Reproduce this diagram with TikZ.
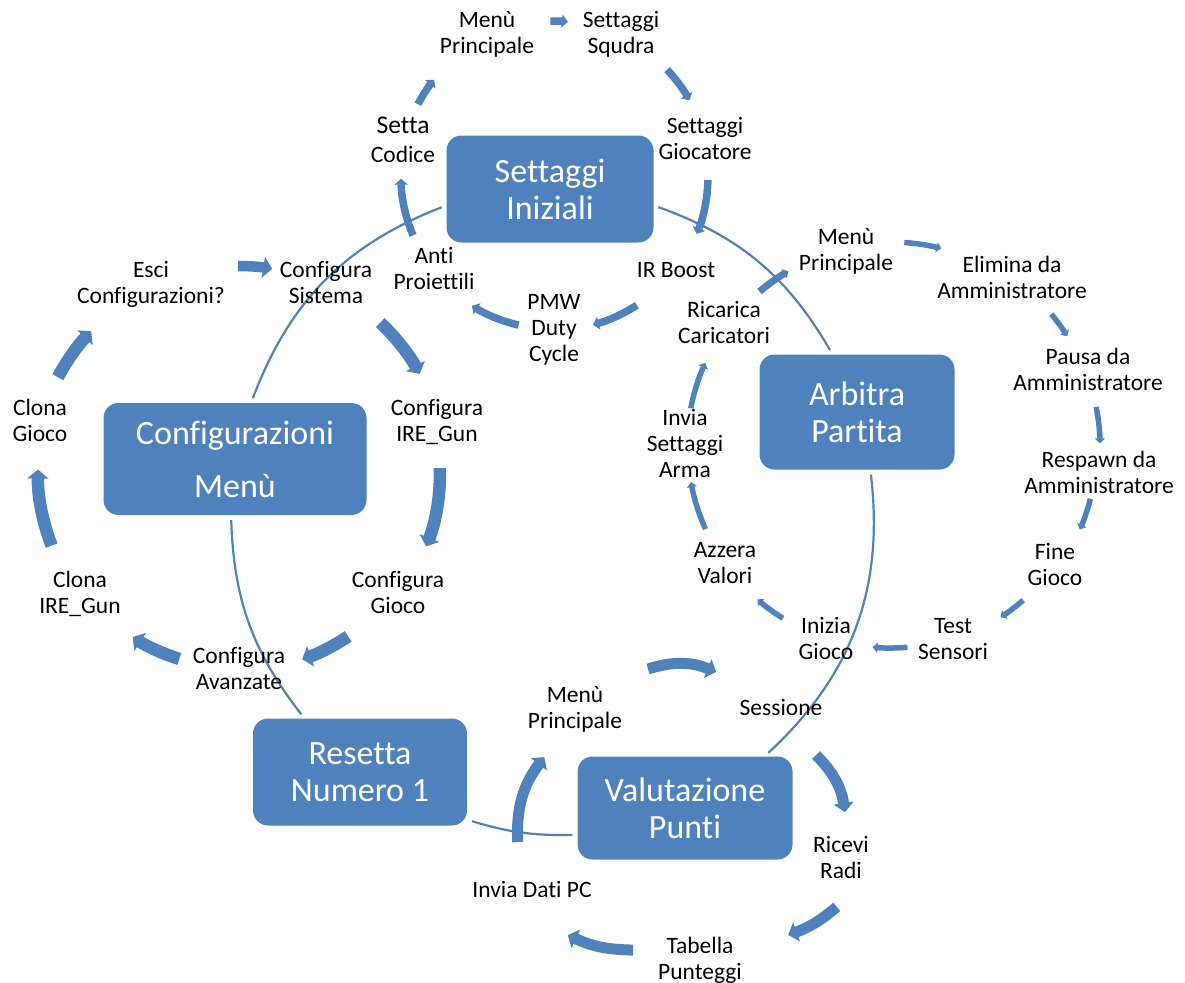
\documentclass[tikz,border=0pt]{standalone}
\usepackage{fontspec}
\setmainfont{Carlito}[Ligatures=NoCommon]
\usetikzlibrary{arrows.meta}
\definecolor{boxcol}{RGB}{79,129,189}
\definecolor{labelcol}{RGB}{0,0,0}

\begin{document}
\begin{tikzpicture}[
  x=1pt, y=-1pt,
  hubbox/.style={
    fill=boxcol, draw=none, rounded corners=15pt,
    align=center, text=white, inner sep=0pt,
    font=\fontsize{34}{37}\selectfont
  },
  lbl/.style={anchor=base, align=center, inner sep=0pt, text=labelcol,
    font=\fontsize{23.5}{26}\selectfont},
  ring/.style={draw=boxcol, line width=2.2pt, shorten <=5pt, shorten >=5pt},
  sarr/.style={draw=boxcol, line width=7.5pt, -{Triangle[width=13pt,length=6pt]}},
  aarr/.style={draw=boxcol, line width=5.5pt, -{Triangle[width=10pt,length=5pt]}},
  carr/.style={draw=boxcol, line width=12.5pt, -{Triangle[width=21pt,length=9pt]}},
  varr/.style={draw=boxcol, line width=11pt, -{Triangle[width=20pt,length=9pt]}}
]
\useasboundingbox (0,0) rectangle (1185,982);

%% ===================== Main boxes ===============================
\node[hubbox, minimum width=207pt, minimum height=107pt] (set) at (550,189) {Settaggi\\Iniziali};
\node[hubbox, minimum width=195pt, minimum height=115pt] (arb) at (857,412) {Arbitra\\Partita};
\node[hubbox, minimum width=263pt, minimum height=112pt,
      font=\fontsize{34}{53}\selectfont]                 (cfg) at (235,459) {Configurazioni\\Menù};
\node[hubbox, minimum width=214pt, minimum height=107pt] (res) at (360,772) {Resetta\\Numero 1};
\node[hubbox, minimum width=215pt, minimum height=103pt] (val) at (685,808) {Valutazione\\Punti};

%% ===================== Outer ring ===============================
\draw[ring] (set.-9.5)  to[bend left=20] (arb.113.6);
\draw[ring] (arb.-77.7) to[bend left=27] (val.33.2);
\draw[ring] (val.194.5) to[bend left=9]  (res.-24.5);
\draw[ring] (res.136.9) to[bend left=18] (cfg.266.3);
\draw[ring] (cfg.74.7)  to[bend left=24] (set.189.5);

%% ===================== Settaggi Iniziali cycle ==================
\node[lbl] (smenu) at (487,54)  {Menù\\Principale};
\node[lbl] (ssqu)  at (621,54)  {Settaggi\\Squdra};
\node[lbl] (sgio)  at (705,159) {Settaggi\\Giocatore};
\node[lbl] (sirb)  at (676,277) {IR Boost};
\node[lbl] (spmw)  at (554,361) {PMW\\Duty\\Cycle};
\node[lbl] (santi) at (434,289) {Anti\\Proiettili};
\node[lbl, font=\fontsize{23.5}{29}\selectfont] (scod) at (403,162)
      {{\fontsize{25.5}{29}\selectfont Setta}\\Codice};

\coordinate (cset) at (553,176);
\draw[sarr] (cset) ++(-91:155) arc[start angle=-91, end angle=-84.5, radius=155];
\draw[sarr] (cset) ++(-43:156) arc[start angle=-43, end angle=-29, radius=156];
\draw[sarr] (cset) ++(1.5:155) arc[start angle=1.5, end angle=22, radius=155];
\draw[sarr] (cset) ++(57:154)  arc[start angle=57, end angle=75, radius=154];
\draw[sarr] (cset) ++(103:153) arc[start angle=103, end angle=122, radius=153];
\draw[sarr] (cset) ++(157:152) arc[start angle=157, end angle=179, radius=152];
\draw[sarr] (cset) ++(208:153) arc[start angle=208, end angle=219, radius=153];

%% ===================== Arbitra Partita cycle ====================
\node[lbl] (amenu) at (846,270)  {Menù\\Principale};
\node[lbl] (aelim) at (1012,298) {Elimina da\\Amministratore};
\node[lbl] (apaus) at (1088,390) {Pausa da\\Amministratore};
\node[lbl] (aresp) at (1099,493) {Respawn da\\Amministratore};
\node[lbl] (afine) at (1055,585) {Fine\\Gioco};
\node[lbl] (atest) at (953,659)  {Test\\Sensori};
\node[lbl] (ainiz) at (826,659)  {Inizia\\Gioco};
\node[lbl] (aazz)  at (725,583)  {Azzera\\Valori};
\node[lbl] (ainv)  at (685,477)  {Invia\\Settaggi\\Arma};
\node[lbl] (aric)  at (724,343)  {Ricarica\\Caricatori};

\coordinate (carb) at (890,447);
\draw[aarr] (carb) ++(-86:205) arc[start angle=-86, end angle=-75.5, radius=205];
\draw[aarr] (carb) ++(-39.5:209) arc[start angle=-39.5, end angle=-32, radius=209];
\draw[aarr] (carb) ++(-11:210) arc[start angle=-11, end angle=-1, radius=210];
\draw[aarr] (carb) ++(14.5:207) arc[start angle=14.5, end angle=23.5, radius=207];
\draw[aarr] (carb) ++(49:203)  arc[start angle=49, end angle=57, radius=203];
\draw[aarr] (carb) ++(85:201)  arc[start angle=85, end angle=95, radius=201];
\draw[aarr] (carb) ++(122:202) arc[start angle=122, end angle=131, radius=202];
\draw[aarr] (carb) ++(156:202) arc[start angle=156, end angle=170, radius=202];
\draw[aarr] (carb) ++(191:203) arc[start angle=191, end angle=204.5, radius=203];
\draw[aarr, line width=7pt] (carb) ++(230:203) arc[start angle=230, end angle=240, radius=203];

%% ===================== Configurazioni Menu cycle ================
\node[lbl] (csis)   at (326,303) {Configura\\Sistema};
\node[lbl] (cire)   at (437,441) {Configura\\IRE\_Gun};
\node[lbl] (cgio)   at (398,613) {Configura\\Gioco};
\node[lbl] (cava)   at (239,689) {Configura\\Avanzate};
\node[lbl] (cclire) at (80,613)  {Clona\\IRE\_Gun};
\node[lbl] (cclgio) at (40,441)  {Clona\\Gioco};
\node[lbl] (cesci)  at (151,303) {Esci\\Configurazioni?};

\coordinate (ccfg) at (238,473);
\draw[carr, line width=10.5pt] (ccfg) ++(-90:207) arc[start angle=-90, end angle=-80.5, radius=207];
\draw[carr] (ccfg) ++(-46.6:207) arc[start angle=-46.6, end angle=-28.6, radius=207];
\draw[carr] (ccfg) ++(-1.4:202)  arc[start angle=-1.4, end angle=21.3, radius=202];
\draw[carr] (ccfg) ++(56:197)    arc[start angle=56, end angle=71, radius=197];
\draw[carr] (ccfg) ++(107.5:195) arc[start angle=107.5, end angle=122.7, radius=195];
\draw[carr] (ccfg) ++(158.7:200) arc[start angle=158.7, end angle=181, radius=200];
\draw[carr] (ccfg) ++(208:204)   arc[start angle=208, end angle=224, radius=204];

%% ===================== Valutazione Punti cycle ==================
\node[lbl] (vmenu) at (575,728) {Menù\\Principale};
\node[lbl] (vsess) at (781,715) {Sessione};
\node[lbl] (vric)  at (841,878) {Ricevi\\Radi};
\node[lbl] (vtab)  at (700,979) {Tabella\\Punteggi};
\node[lbl] (vinv)  at (532,897) {Invia Dati PC};

\coordinate (cval) at (685,812);
\draw[varr] ([shift={(-104.5:147.7)}]cval) to[bend left=20] ([shift={(-77.5:143.4)}]cval);
\draw[varr] ([shift={(-23.5:142.9)}]cval)  to[bend left=18] ([shift={(0:160)}]cval);
\draw[varr] ([shift={(32:179)}]cval)       to[bend left=10] ([shift={(50:160.5)}]cval);
\draw[varr] ([shift={(110.6:147.5)}]cval)  to[bend left=12] ([shift={(133.6:170)}]cval);
\draw[varr] ([shift={(169.8:170)}]cval)    to[bend left=20] ([shift={(201.3:151)}]cval);

\end{tikzpicture}
\end{document}
